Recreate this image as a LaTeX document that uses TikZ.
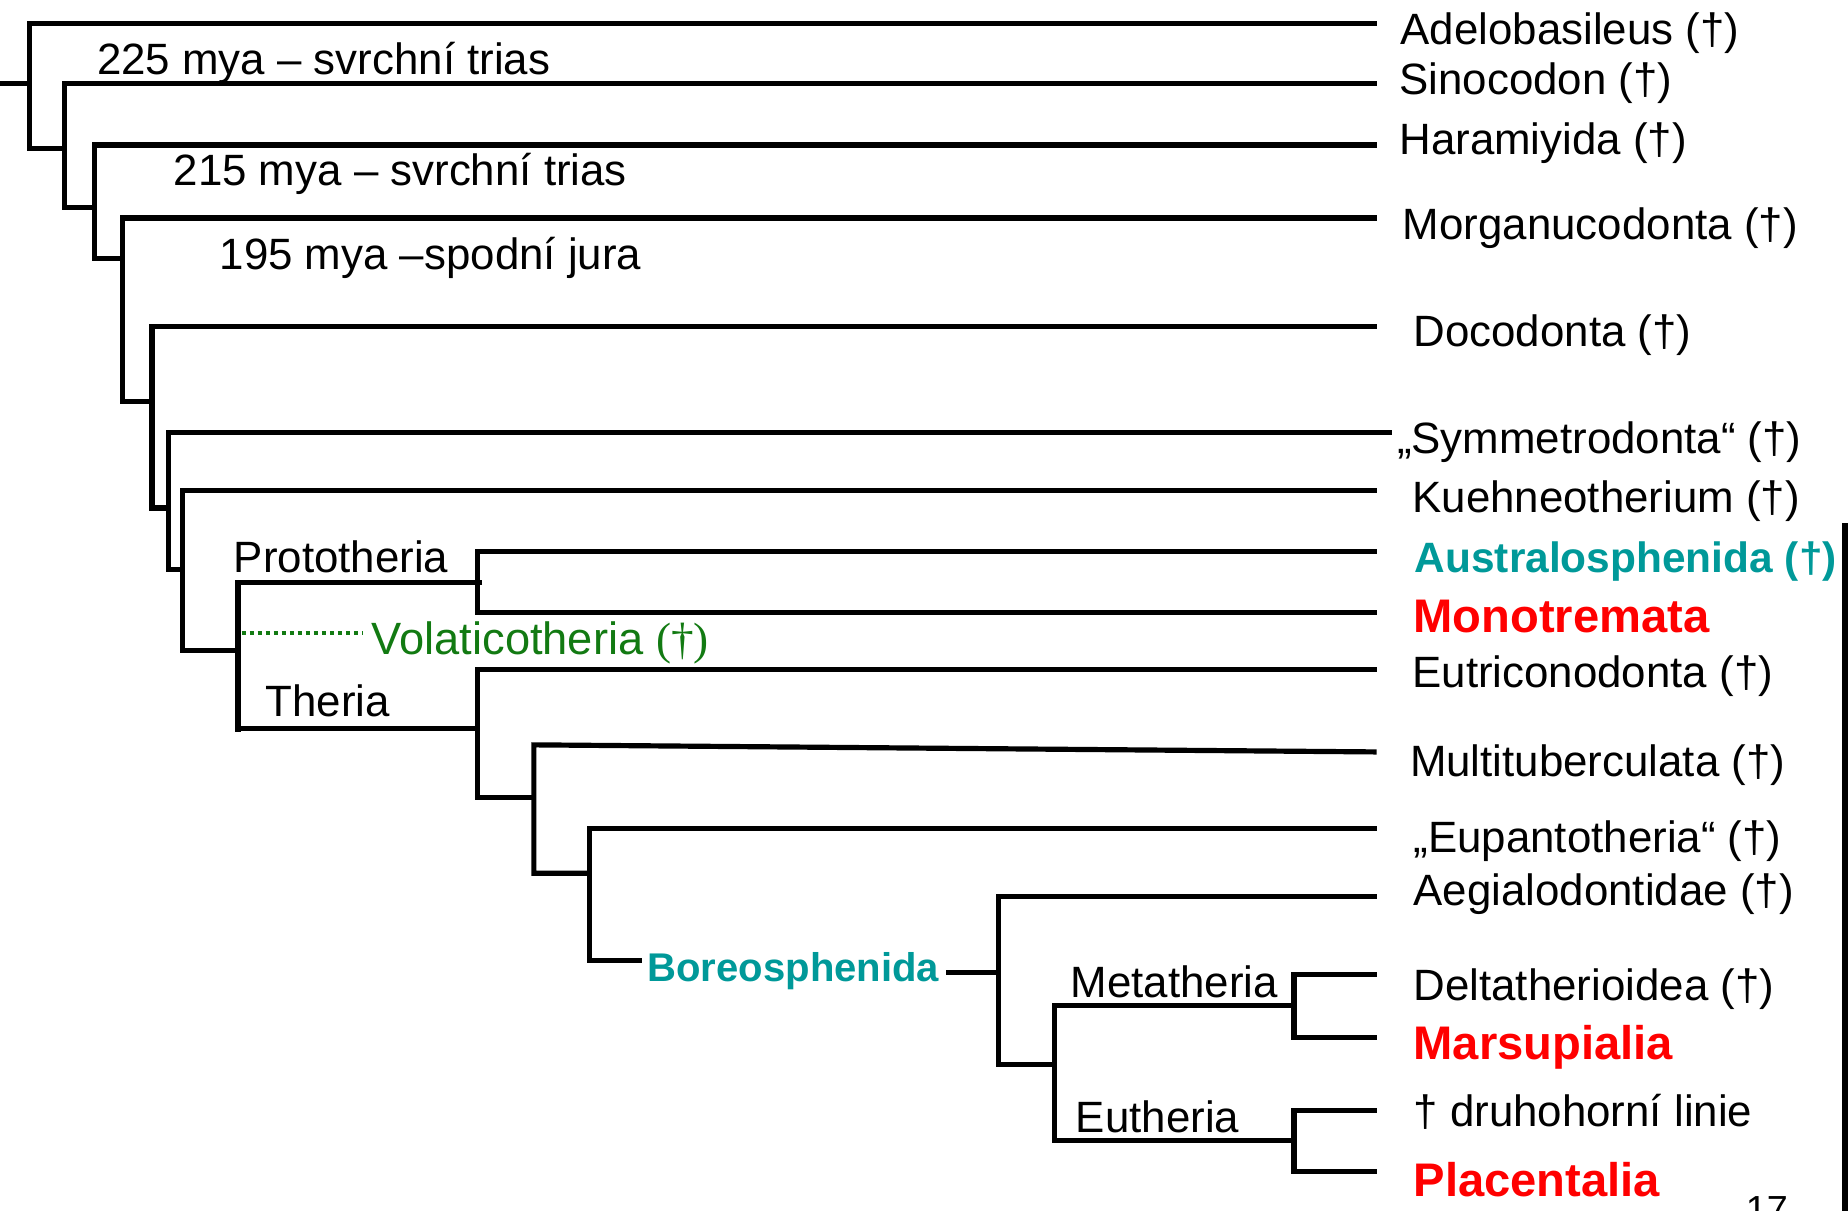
\documentclass[tikz,border=0pt]{standalone}
\usepackage{fontspec}
\setmainfont{Liberation Sans}
\newfontfamily\serifdag{Liberation Serif}
\definecolor{tealc}{RGB}{0,153,153}
\definecolor{redc}{RGB}{255,0,0}
\definecolor{greenc}{RGB}{18,122,18}
\begin{document}
\begin{tikzpicture}[x=0.5pt,y=-0.5pt,
  br/.style={line width=2.2pt, line join=miter, line cap=butt},
  leaf/.style={anchor=base west, inner sep=0pt, font=\fontsize{18.6}{20}\selectfont},
  bleaf/.style={anchor=base west, inner sep=0pt, font=\fontsize{18}{20}\selectfont\bfseries},
  rleaf/.style={anchor=base west, inner sep=0pt, text=redc, font=\fontsize{20}{22}\selectfont\bfseries},
  dotl/.style={greenc, line width=1.8pt, dash pattern=on 1.7pt off 1.7pt}
]
\useasboundingbox (0,0) rectangle (1568,1026.7);

% ---------- leaf labels ----------
\node[leaf] (Adel) at (1188,38) {Adelobasileus (†)};
\node[leaf] (Sino) at (1187,80.6) {Sinocodon (†)};
\node[leaf] (Hara) at (1187,131.5) {Haramiyida (†)};
\node[leaf] (Morg) at (1190,203.6) {Morganucodonta (†)};
\node[leaf] (Doco) at (1199,294.4) {Docodonta (†)};
\node[leaf] (Symm) at (1185,384.4) {„Symmetrodonta“ (†)};
\node[leaf] (Kueh) at (1198,435) {Kuehneotherium (†)};
\node[bleaf, text=tealc] (Austr) at (1200,486) {Australosphenida (†)};
\node[rleaf] (Mono) at (1199,537) {Monotremata};
\node[leaf] (Eutri) at (1198,583) {Eutriconodonta (†)};
\node[leaf] (Multi) at (1196,659) {Multituberculata (†)};
\node[leaf] (Eupan) at (1199,723) {„Eupantotheria“ (†)};
\node[leaf] (Aegi) at (1199,768) {Aegialodontidae (†)};
\node[leaf] (Delta) at (1199,848.5) {Deltatherioidea (†)};
\node[rleaf] (Mars) at (1199,899) {Marsupialia};
\node[leaf] (Druho) at (1199,956) {† druhohorní linie};
\node[rleaf] (Plac) at (1199,1015) {Placentalia};

% ---------- inner labels ----------
\node[leaf] (t225) at (82,63.6) {225 mya – svrchní trias};
\node[leaf] (t215) at (147,157) {215 mya – svrchní trias};
\node[leaf] (t195) at (186,229) {195 mya –spodní jura};
\node[leaf] (Proto) at (198,486) {Prototheria};
\node[leaf, text=greenc, font=\fontsize{19.2}{21}\selectfont] (Vola) at (315,555) {Volaticotheria {\serifdag(†)}};
\node[leaf] (Theria) at (225,608) {Theria};
\node[anchor=base west, inner sep=0pt, text=tealc, font=\fontsize{17}{19}\selectfont\bfseries] (Boreo) at (549,833) {Boreosphenida};
\node[leaf] (Meta) at (908,846) {Metatheria};
\node[leaf] (Euth) at (912.5,960.5) {Eutheria};
\node[anchor=base west, inner sep=0pt, font=\fontsize{16}{18}\selectfont] (pg) at (1481,1037) {17};

% ---------- leaf line ends ----------
\coordinate (eAdel) at (1168,20);
\coordinate (eSino) at (1168,71);
\coordinate (eHara) at (1168,123);
\coordinate (eMorg) at (1168,185);
\coordinate (eDoco) at (1168,277);
\coordinate (eSymm) at (1181,367);
\coordinate (eKueh) at (1168,416);
\coordinate (eAustr) at (1168,468);
\coordinate (eMono) at (1168,520);
\coordinate (eEutri) at (1168,568);
\coordinate (eMulti) at (1168,638);
\coordinate (eEupan) at (1168,703);
\coordinate (eAegi) at (1168,761);
\coordinate (eDelta) at (1168,827);
\coordinate (eMars) at (1168,880);
\coordinate (eDruho) at (1168,942);
\coordinate (ePlac) at (1168,994);

% ---------- internal vertices ----------
\coordinate (root) at (0,71);
\coordinate (c1) at (25,71);
\coordinate (c2) at (55,126);
\coordinate (c3) at (80,176);
\coordinate (c4) at (104,219);
\coordinate (c5) at (129,341);
\coordinate (c6) at (143,431);
\coordinate (c7) at (155,483);
\coordinate (c8) at (202,552);
\coordinate (cP) at (405,494);
\coordinate (cT) at (405,618);
\coordinate (c9) at (453,677);
\coordinate (c10) at (500,741);
\coordinate (bIn) at (545,815);
\coordinate (bOut) at (803,825);
\coordinate (c11) at (847,825);
\coordinate (c12) at (895,903);
\coordinate (cM) at (1098,853);
\coordinate (cE) at (1098,968);
\coordinate (vd1) at (205,537);
\coordinate (vd2) at (308,537);

% ---------- branches ----------
\draw[br] (root) -- (c1);
\draw[br] (eAdel) -| (c1) -- (c1 |- c2) -- (c2);
\draw[br] (eSino) -| (c2) -- (c2 |- c3) -- (c3);
\draw[br] (eHara) -| (c3) -- (c3 |- c4) -- (c4);
\draw[br] (eMorg) -| (c4) -- (c4 |- c5) -- (c5);
\draw[br] (eDoco) -| (c5) -- (c5 |- c6) -- (c6);
\draw[br] (eSymm) -| (c6) -- (c6 |- c7) -- (c7);
\draw[br] (eKueh) -| (c7) -- (c7 |- c8) -- (c8);
\draw[br] ([xshift=2pt]cP) -| (c8 |- cP) -- (c8 |- 0,621);
\draw[br] (c8 |- cT) -- (cT);
\draw[br] (eAustr) -| (cP) -- (cP |- eMono) -- (eMono);
\draw[br] (eEutri) -| (cT) -- (cT |- c9) -- (c9);
\draw[br] (eMulti) -- (c9 |- 0,632) -- (c9) -- (c9 |- c10) -- (c10);
\draw[br] (eEupan) -| (c10) -- (c10 |- bIn) -- (bIn);
\draw[br] (bOut) -- (c11);
\draw[br] (eAegi) -| (c11) -- (c11 |- c12) -- (c12);
\draw[br] (cM) -| (c12) |- (cE);
\draw[br] (eDelta) -| (cM) |- (eMars);
\draw[br] (eDruho) -| (cE) |- (ePlac);
\draw[dotl] (vd1) -- (vd2);

% right edge bar
\coordinate (bar1) at (1565.5,444);
\coordinate (bar2) at (1565.5,1030);
\draw[br] (bar1) -- (bar2);
\end{tikzpicture}
\end{document}
